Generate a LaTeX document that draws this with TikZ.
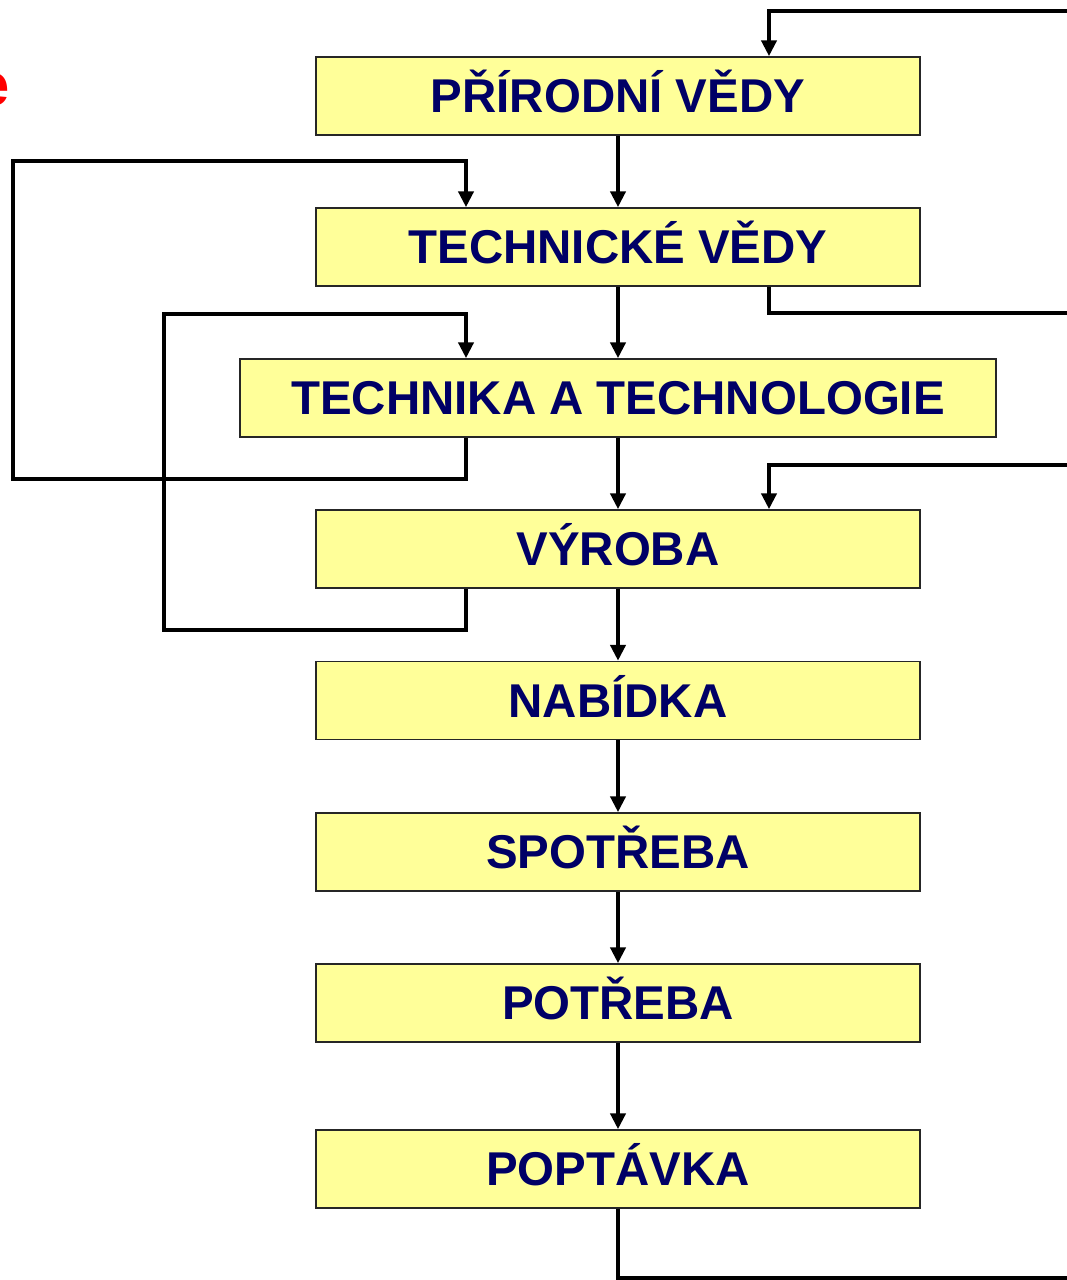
\documentclass[tikz,border=0pt]{standalone}
\usepackage{fontspec}
\setmainfont{Liberation Sans}
\usetikzlibrary{arrows.meta}
\definecolor{boxfill}{HTML}{FFFF99}
\definecolor{boxtext}{HTML}{000066}
\begin{document}
\begin{tikzpicture}[x=0.02cm,y=-0.02cm,
  box/.style={draw=black!85, line width=0.9pt, fill=boxfill, inner sep=0pt,
    minimum height=1.56cm, text height=19.3pt, text depth=0pt,
    font=\fontsize{27}{30}\selectfont\bfseries, text=boxtext},
  wbox/.style={box, minimum width=12.08cm},
  conn/.style={line width=2.8pt, black},
  arr/.style={conn, -{Triangle[length=9pt,width=8.5pt]}}]
\useasboundingbox (0,0) rectangle (1066,1280);
\node[anchor=base east, text=red, font=\fontsize{34}{36}\selectfont\bfseries] (ttl) at (15.5,106) {e};
\node[wbox] (pv) at (618,96) {PŘÍRODNÍ VĚDY};
\node[wbox] (tv) at (618,247) {TECHNICKÉ VĚDY};
\node[box, minimum width=15.12cm] (tt) at (618,398) {TECHNIKA A TECHNOLOGIE};
\node[wbox] (vy) at (618,549) {VÝROBA};
\node[wbox] (na) at (618,700.5) {NABÍDKA};
\node[wbox] (sp) at (618,852) {SPOTŘEBA};
\node[wbox] (po) at (618,1003) {POTŘEBA};
\node[wbox] (pp) at (618,1169) {POPTÁVKA};
\coordinate (xL) at (466,0);
\coordinate (xR) at (769,0);
\coordinate (r1) at (1080,11);
\coordinate (r2) at (1080,313);
\coordinate (r3) at (1080,465);
\coordinate (r4) at (1080,1278);
% main chain
\draw[arr] (pv) -- (tv);
\draw[arr] (tv) -- (tt);
\draw[arr] (tt) -- (vy);
\draw[arr] (vy) -- (na);
\draw[arr] (na) -- (sp);
\draw[arr] (sp) -- (po);
\draw[arr] (po) -- (pp);
% right side
\draw[arr] (r1) -- (r1 -| xR) -- (pv.north -| xR);
\draw[conn] (tv.south -| xR) -- (r2 -| xR) -- (r2);
\draw[arr] (r3) -- (r3 -| xR) -- (vy.north -| xR);
\draw[conn] (pp.south) -- (r4 -| pp.south) -- (r4);
% left loops
\draw[arr] (tt.south -| xL) -- (466,479) -- (13,479) -- (13,161) -- (466,161) -- (tv.north -| xL);
\draw[arr] (vy.south -| xL) -- (466,630) -- (164,630) -- (164,314) -- (466,314) -- (tt.north -| xL);
\end{tikzpicture}
\end{document}
